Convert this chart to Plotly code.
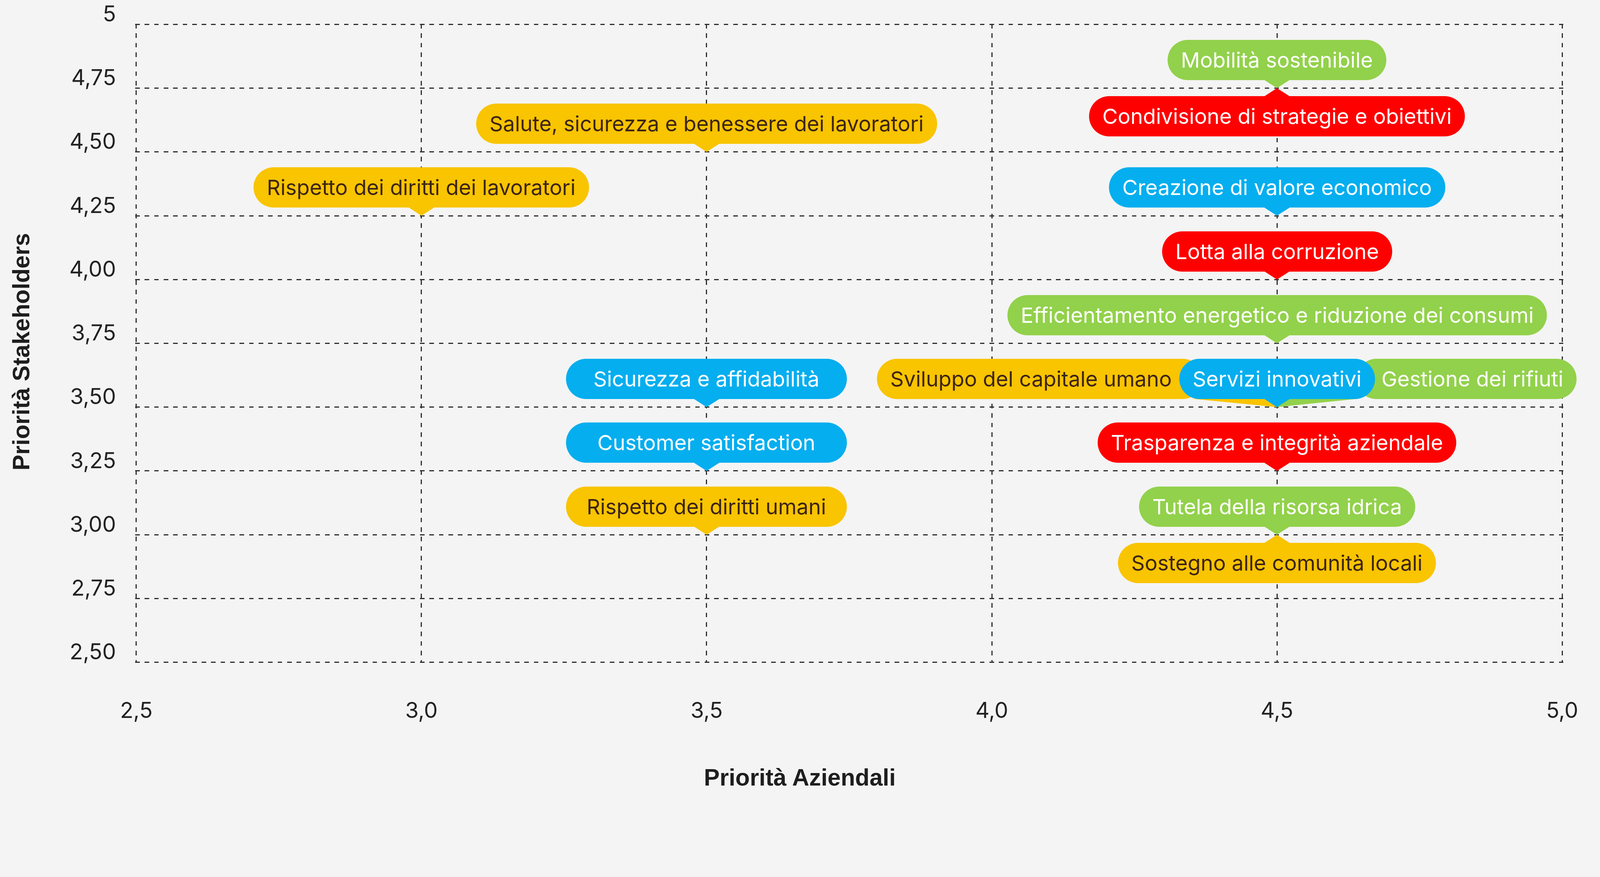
import plotly.graph_objects as go

# ---------------- data ----------------
labels = [
    "Sviluppo del capitale umano",
    "Gestione dei rifiuti",
    "Servizi innovativi",
    "Mobilità sostenibile",
    "Condivisione di strategie e obiettivi",
    "Salute, sicurezza e benessere dei lavoratori",
    "Rispetto dei diritti dei lavoratori",
    "Creazione di valore economico",
    "Lotta alla corruzione",
    "Efficientamento energetico e riduzione dei consumi",
    "Sicurezza e affidabilità",
    "Customer satisfaction",
    "Rispetto dei diritti umani",
    "Trasparenza e integrità aziendale",
    "Tutela della risorsa idrica",
    "Sostegno alle comunità locali",
]
priorita_aziendali = [4.5, 4.5, 4.5, 4.5, 4.5, 3.5, 3.0, 4.5, 4.5, 4.5, 3.5, 3.5, 3.5, 4.5, 4.5, 4.5]
priorita_stakeholders = [3.5, 3.5, 3.5, 4.75, 4.75, 4.5, 4.25, 4.25, 4.0, 3.75, 3.5, 3.25, 3.0, 3.25, 3.0, 3.0]
ambito = [
    "Sociale", "Ambiente", "Economia", "Ambiente", "Governance", "Sociale", "Sociale",
    "Economia", "Governance", "Ambiente", "Economia", "Economia", "Sociale", "Governance",
    "Ambiente", "Sociale",
]

x_tickvals = [2.5, 3.0, 3.5, 4.0, 4.5, 5.0]
x_ticktext = ["2,5", "3,0", "3,5", "4,0", "4,5", "5,0"]
y_tickvals = [2.5, 2.75, 3.0, 3.25, 3.5, 3.75, 4.0, 4.25, 4.5, 4.75, 5.0]
y_ticktext = ["2,50", "2,75", "3,00", "3,25", "3,50", "3,75", "4,00", "4,25", "4,50", "4,75", "5"]

# ---------------- style ----------------
S = 4096 / 4543          # CSS px per screenshot px
def px(v):
    return round(v * S, 1)

BG = "#F4F4F4"
GRID = "#2E2E2E"
FILL = {"Ambiente": "#92D14B", "Sociale": "#F9C400", "Economia": "#05AEEF", "Governance": "#FF0000"}
INK = {"Ambiente": "#FFFFFF", "Sociale": "#3B2416", "Economia": "#FFFFFF", "Governance": "#FFFFFF"}
placement = {
    "Condivisione di strategie e obiettivi": "below",
    "Sostegno alle comunità locali": "below",
    "Sviluppo del capitale umano": "left",
    "Gestione dei rifiuti": "right",
}
# bubbles stacked in the 3,5 column share one width
COLUMN_BOX_W = px(797)
column_group = {"Sicurezza e affidabilità", "Customer satisfaction", "Rispetto dei diritti umani"}

PAD = px(21)
PTR_H = px(23)
PTR_W = px(39)
LABEL_FONT = dict(family="Inter, Noto Sans, sans-serif", size=px(60))
TICK_FONT = dict(family="Inter, Noto Sans, sans-serif", size=px(62), color="#222222")
TITLE_FONT = dict(family="Liberation Sans, Arial, sans-serif", size=px(67), color="#1E1E1E", weight="bold")

fig = go.Figure()
fig.add_trace(go.Scatter(
    x=priorita_aziendali, y=priorita_stakeholders, mode="markers",
    marker=dict(size=1, opacity=0), text=labels, hoverinfo="text", showlegend=False,
))

shapes = []
annotations = []
NB = "\u00a0"
for lab, xv, yv, grp in zip(labels, priorita_aziendali, priorita_stakeholders, ambito):
    pos = placement.get(lab, "above")
    common = dict(x=xv, y=yv, xref="x", yref="y", showarrow=False,
                  bgcolor=FILL[grp], borderpad=PAD, borderwidth=0,
                  font=dict(color=INK[grp], **LABEL_FONT))
    if lab in column_group:
        common["width"] = COLUMN_BOX_W - 2 * PAD
    if pos == "above":
        annotations.append(dict(text=NB + lab + NB, xanchor="center", yanchor="bottom", yshift=PTR_H, **common))
        path = f"M {-PTR_W},{PTR_H + 2} L {PTR_W},{PTR_H + 2} L 0,0 Z"
    elif pos == "below":
        annotations.append(dict(text=NB + lab + NB, xanchor="center", yanchor="top", yshift=-PTR_H, **common))
        path = f"M {-PTR_W},{-PTR_H - 2} L {PTR_W},{-PTR_H - 2} L 0,0 Z"
    elif pos == "left":
        annotations.append(dict(text=NB + lab + NB * 4, xanchor="left", yanchor="bottom",
                                xshift=px(-1136), yshift=PTR_H, **common))
        path = f"M {px(-244)},{PTR_H + 1} L {px(-20)},{PTR_H + 1} L 0,0 Z"
    else:
        annotations.append(dict(text=NB * 3 + lab + NB, xanchor="right", yanchor="bottom",
                                xshift=px(851), yshift=PTR_H, **common))
        path = f"M {px(20)},{PTR_H + 1} L {px(234)},{PTR_H + 1} L 0,0 Z"
    shapes.append(dict(type="path", path=path, xref="x", yref="y",
                       xsizemode="pixel", ysizemode="pixel", xanchor=xv, yanchor=yv,
                       fillcolor=FILL[grp], line=dict(width=0), layer="above"))

annotations.append(dict(text="Priorità Aziendali", xref="paper", yref="paper", x=0.4653, y=-0.179,
                        xanchor="center", yanchor="middle", showarrow=False, font=TITLE_FONT))
annotations.append(dict(text="Priorità Stakeholders", xref="paper", yref="paper", x=-0.0801, y=0.4865,
                        xanchor="center", yanchor="middle", textangle=-90, showarrow=False, font=TITLE_FONT))

fig.update_layout(
    width=4096, height=2023,
    paper_bgcolor=BG, plot_bgcolor=BG,
    margin=dict(l=px(384), r=px(104), t=px(68), b=px(363), autoexpand=False),
    shapes=shapes, annotations=annotations,
    showlegend=False,
)
EDGE = 0.002  # keeps the edge grid lines inside the drawable area
fig.update_xaxes(
    range=[2.5 - EDGE, 5.0 + EDGE], tickvals=x_tickvals, ticktext=x_ticktext, tickfont=TICK_FONT,
    showgrid=True, gridcolor=GRID, gridwidth=px(3), griddash=f"{px(13)}px,{px(14)}px",
    zeroline=False, showline=False, ticks="", ticklabelstandoff=int(round(px(93))), automargin=False,
    ticklabeloverflow="allow",
)
fig.update_yaxes(
    range=[2.5 - EDGE, 5.0 + EDGE], tickvals=y_tickvals, ticktext=y_ticktext, tickfont=TICK_FONT,
    showgrid=True, gridcolor=GRID, gridwidth=px(3), griddash=f"{px(13)}px,{px(14)}px",
    zeroline=False, showline=False, ticks="", ticklabelstandoff=int(round(px(53))),
    ticklabelshift=-27, automargin=False, ticklabeloverflow="allow",
)

post = """
document.documentElement.style.background = '%s';
document.body.style.margin = '0';
document.body.style.background = '%s';
var gd = document.getElementById('{plot_id}');
function roundBubbles(){
  gd.querySelectorAll('.annotation rect.bg').forEach(function(r){
    var h = parseFloat(r.getAttribute('height'));
    if (h > 0) { r.setAttribute('rx', h / 2); r.setAttribute('ry', h / 2); }
  });
}
roundBubbles();
gd.on('plotly_afterplot', roundBubbles);
""" % (BG, BG)
fig.write_html("out.html", post_script=post, config={"displayModeBar": False})
